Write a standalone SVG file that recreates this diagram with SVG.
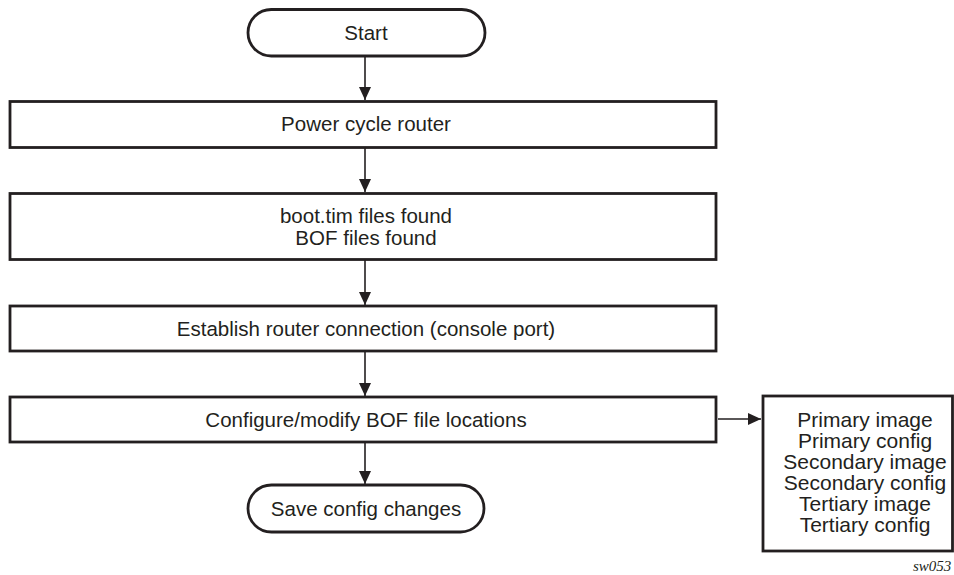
<svg xmlns="http://www.w3.org/2000/svg" width="954" height="575" viewBox="0 0 954 575">
<style>
.box{fill:#fff;stroke:#231f20;stroke-width:2.8}
.t{font-family:"Liberation Sans",Arial,sans-serif;font-size:20.5px;fill:#231f20;text-anchor:middle}
.r{font-size:21px}
.c{stroke:#231f20;stroke-width:1.6;fill:none}
</style>
<defs>
<marker id="ah" markerWidth="13" markerHeight="12" refX="13" refY="6" orient="auto" markerUnits="userSpaceOnUse">
<path d="M0,0 L13,6 L0,12 Z" fill="#231f20"/>
</marker>
</defs>
<rect width="954" height="575" fill="#fff"/>
<g id="connectors">
<line class="c" x1="365" y1="56" x2="365" y2="100" marker-end="url(#ah)"/>
<line class="c" x1="365" y1="148" x2="365" y2="192" marker-end="url(#ah)"/>
<line class="c" x1="365" y1="260" x2="365" y2="305" marker-end="url(#ah)"/>
<line class="c" x1="365" y1="352" x2="365" y2="396" marker-end="url(#ah)"/>
<line class="c" x1="365" y1="443" x2="365" y2="484" marker-end="url(#ah)"/>
<line class="c" x1="718" y1="419" x2="761" y2="419" marker-end="url(#ah)"/>
</g>
<g id="start">
<rect class="box" x="248" y="9.5" width="237" height="46.5" rx="23.25"/>
<text class="t" x="366" y="40">Start</text>
</g>
<g id="power">
<rect class="box" x="10" y="101.5" width="706" height="46"/>
<text class="t" x="366" y="131">Power cycle router</text>
</g>
<g id="found">
<rect class="box" x="10" y="193.5" width="706" height="66"/>
<text class="t" x="366" y="223">boot.tim files found</text>
<text class="t" x="366" y="244.5">BOF files found</text>
</g>
<g id="establish">
<rect class="box" x="10" y="306" width="706" height="45"/>
<text class="t" x="366" y="336">Establish router connection (console port)</text>
</g>
<g id="configure">
<rect class="box" x="10" y="397" width="706" height="45"/>
<text class="t" x="366" y="427">Configure/modify BOF file locations</text>
</g>
<g id="save">
<rect class="box" x="248" y="485" width="236" height="47" rx="23.5"/>
<text class="t" x="366" y="516">Save config changes</text>
</g>
<g id="locations">
<rect class="box" x="763" y="396" width="189.5" height="155"/>
<text class="t r" x="865" y="427">Primary image</text>
<text class="t r" x="865" y="448">Primary config</text>
<text class="t r" x="865" y="469">Secondary image</text>
<text class="t r" x="865" y="490">Secondary config</text>
<text class="t r" x="865" y="511">Tertiary image</text>
<text class="t r" x="865" y="532">Tertiary config</text>
</g>
<text x="913" y="571" font-family="'Liberation Serif','Times New Roman',serif" font-style="italic" font-size="15" fill="#231f20">sw053</text>
</svg>
